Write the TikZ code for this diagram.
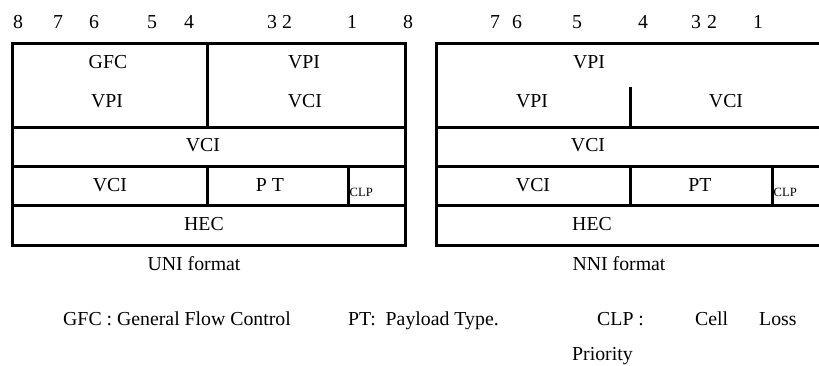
\documentclass[tikz,border=0pt]{standalone}
\usepackage{fontspec}
\setmainfont{Liberation Serif}
\usetikzlibrary{positioning}

\begin{document}
\begin{tikzpicture}[x=1pt, y=-1pt,
  rule/.style={line width=3pt},
  lbl/.style={inner sep=0pt, anchor=base, font=\fontsize{19.8}{22}\selectfont},
  small/.style={inner sep=0pt, anchor=base west, font=\fontsize{12.6}{14}\selectfont},
  note/.style={inner sep=0pt, anchor=base west, font=\fontsize{19.8}{22}\selectfont}
]
\clip (0,0) rectangle (819,365);

\foreach \d/\x [count=\i] in {8/18,7/58,6/94,5/152,4/189,3/272,2/287,1/352,8/408,
                              7/495,6/517,5/577,4/643,3/696,2/712,1/758}
  \node[lbl] (bit\i) at (\x,28.5) {\d};

% UNI header
\draw[rule] (12,43) rectangle (405,245);
\draw[rule] (12,127) -- (405,127) (12,166) -- (405,166) (12,205) -- (405,205);
\draw[rule] (207,43) -- (207,127) (207,166) -- (207,205) (348,166) -- (348,205);
\node[lbl] (uGfc) at (108,68) {GFC};
\node[lbl] (uVpiA) at (304,68) {VPI};
\node[lbl] (uVpiB) at (107,107) {VPI};
\node[lbl] (uVciA) at (305,107) {VCI};
\node[lbl] (uVciB) at (203,151.5) {VCI};
\node[lbl] (uVciC) at (110,191.5) {VCI};
\node[lbl] (uPt) at (270,191.5) {P T};
\node[small] (uClp) at (349.5,196) {CLP};
\node[lbl] (uHec) at (204,230) {HEC};
\node[lbl] (uni) at (194,270.5) {UNI format};

% NNI header
\draw[rule] (830,43) -- (436,43) -- (436,245) -- (830,245);
\draw[rule] (436,127) -- (830,127) (436,166) -- (830,166) (436,205) -- (830,205);
\draw[rule] (630,87) -- (630,127) (630,166) -- (630,205) (772,166) -- (772,205);
\node[lbl] (nVpiA) at (589,68) {VPI};
\node[lbl] (nVpiB) at (532,107) {VPI};
\node[lbl] (nVciA) at (726,107) {VCI};
\node[lbl] (nVciB) at (588,151.5) {VCI};
\node[lbl] (nVciC) at (533,191.5) {VCI};
\node[lbl] (nPt) at (700,191.5) {PT};
\node[small] (nClp) at (773.5,196) {CLP};
\node[lbl] (nHec) at (592,230) {HEC};
\node[lbl] (nni) at (619,270.5) {NNI format};

\node[note] (keyGfc) at (63,325) {GFC : General Flow Control};
\node[note] (keyPt) at (348,325) {PT:\ \ Payload Type.};
\node[note] (keyClp) at (597,325) {CLP :};
\node[note] (keyCell) at (695,325) {Cell};
\node[note] (keyLoss) at (759,325) {Loss};
\node[note] (keyPrio) at (572,360.5) {Priority};
\end{tikzpicture}
\end{document}
